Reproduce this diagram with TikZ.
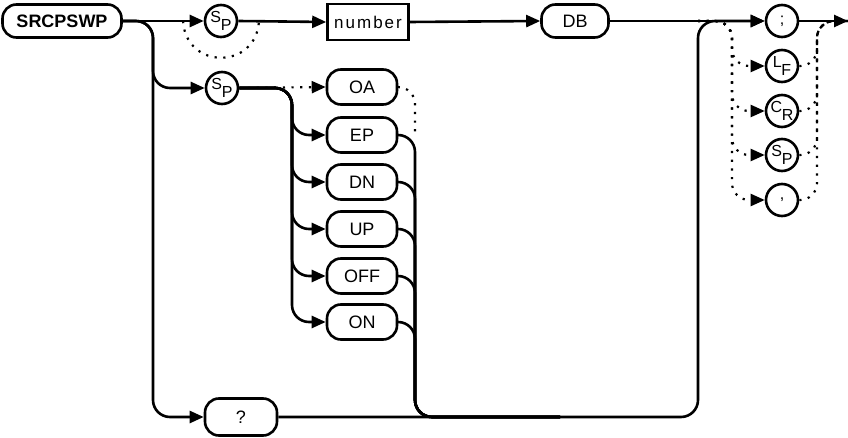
\documentclass[tikz,border=0pt]{standalone}
\usepackage{fontspec}
\setmainfont{Liberation Sans}
\usetikzlibrary{arrows.meta, positioning}

\newcommand{\subpair}[2]{\raisebox{0.2ex}{#1}\kern-0.3pt\raisebox{-0.8ex}{#2}}

\begin{document}
\begin{tikzpicture}[
    x=1pt, y=-1pt,
    flow/.style={line width=2.6pt, rounded corners=17pt},
    opt/.style={line width=2.2pt, dash pattern=on 2.2pt off 6.5pt, rounded corners=17pt},
    arr/.style={-{Triangle[length=14pt, width=12pt]}},
    term/.style={draw, line width=2.6pt, rounded corners=14pt, minimum width=70pt, minimum height=35pt, inner sep=0pt, font=\fontsize{18}{18}\selectfont},
    nonterm/.style={draw, line width=2.6pt, minimum width=81pt, minimum height=36pt, inner sep=0pt, font=\fontsize{17}{17}\selectfont\addfontfeature{LetterSpace=12}},
    sym/.style={draw, circle, line width=2.6pt, minimum size=32pt, inner sep=0pt, font=\fontsize{16}{16}\selectfont}
]
\useasboundingbox (0,0) rectangle (848,438);

% Main path
\node[term, minimum width=119pt, minimum height=33pt, font=\fontsize{18}{18}\selectfont\bfseries] (cmd) at (62,21) {SRCPSWP};
\node[sym] (sp1) at (221,21) {\subpair{S}{P}};
\node[nonterm] (num) at (368,22) {number};
\node[term, minimum width=67pt, minimum height=33pt] (db) at (575,21) {DB};
\node[sym] (semi) at (782,21) {;};

% Terminators
\node[sym] (lf) at (782,66) {\subpair{L}{F}};
\node[sym] (cr) at (782,111) {\subpair{C}{R}};
\node[sym] (spr) at (782,155) {\subpair{S}{P}};
\node[sym] (comma) at (782,200) {,};

% Sweep options
\node[sym] (sp2) at (222,88) {\subpair{S}{P}};
\node[term] (oa) at (362,87) {OA};
\node[term] (ep) at (362,135) {EP};
\node[term] (dn) at (362,182) {DN};
\node[term] (up) at (362,229) {UP};
\node[term] (off) at (362,276) {OFF};
\node[term] (on) at (362,322) {ON};

% Query
\node[term, minimum width=72pt, minimum height=37pt] (q) at (241,417) {?};

% Junctions
\coordinate (jL) at (153,21);
\coordinate (jO) at (292,88);
\coordinate (jR) at (415,417);
\coordinate (jM) at (560,417);
\coordinate (jB) at (698,417);
\coordinate (jS) at (732,21);
\coordinate (jE) at (817,21);
\coordinate (byin) at (183,21);
\coordinate (byout) at (259,21);
\coordinate (exit) at (848,21);

% Arrows
\draw[flow, arr] (cmd.east) -- (sp1.west);
\draw[opt] (byin) .. controls (186,70) and (256,70) .. (byout);
\draw[flow, arr] (sp1.east) -- (num.west);
\draw[flow, arr] (num.east) -- (db.west);
\draw[flow, arr] (db.east) -- (semi.west);
\draw[flow, arr] (semi.east) -- (exit);

\draw[flow, arr] (cmd.east) -- (jL) -- (jL |- q) -- (q.west);
\draw[flow, arr] (cmd.east) -- (jL) -- (jL |- sp2) -- (sp2.west);

\draw[opt, arr] (sp2.east) -- (oa.west);
\foreach \o in {ep,dn,up,off,on}
  \draw[flow, arr] (sp2.east) -- (jO) -- (jO |- \o) -- (\o.west);
\draw[opt] (oa.east) -| (jR |- ep);
\foreach \o in {ep,dn,up,off,on}
  \draw[flow] (\o.east) -| (jR) -- (jM);

\draw[flow, arr] (q.east) -- (jB) -- (jB |- semi) -- (semi.west);

\foreach \s in {lf,cr,spr,comma} {
  \draw[opt, arr] (jB |- semi) -- (jS) -- (jS |- \s) -- (\s.west);
  \draw[opt] (\s.east) -| (jE) -- (exit);
}

\end{tikzpicture}
\end{document}
